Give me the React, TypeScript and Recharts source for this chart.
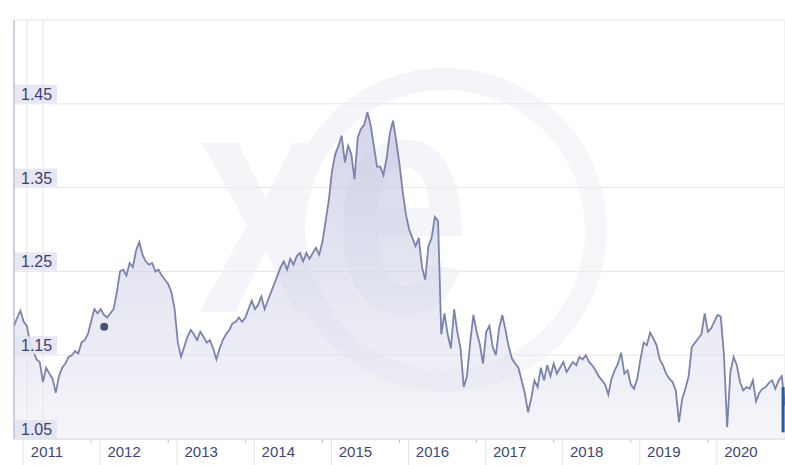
import { ComposedChart, Area, XAxis, YAxis, CartesianGrid, ReferenceDot, ReferenceLine, Customized } from "recharts";

// GBP/EUR, twice a month readings, 10 years
const Y2011 = [1.185, 1.195, 1.203, 1.19, 1.185, 1.165, 1.155, 1.145, 1.142, 1.118, 1.135, 1.128, 1.122, 1.105, 1.125, 1.135, 1.14, 1.148, 1.15, 1.155, 1.152, 1.165, 1.168, 1.175];
const Y2012 = [1.19, 1.205, 1.2, 1.205, 1.198, 1.195, 1.2, 1.205, 1.225, 1.25, 1.252, 1.245, 1.26, 1.255, 1.275, 1.285, 1.27, 1.262, 1.258, 1.26, 1.25, 1.252, 1.245, 1.24];
const Y2013 = [1.235, 1.225, 1.205, 1.165, 1.148, 1.16, 1.172, 1.18, 1.175, 1.168, 1.178, 1.172, 1.165, 1.168, 1.158, 1.145, 1.158, 1.168, 1.175, 1.18, 1.188, 1.19, 1.195, 1.19];
const Y2014 = [1.195, 1.205, 1.215, 1.205, 1.21, 1.22, 1.205, 1.215, 1.225, 1.235, 1.245, 1.255, 1.262, 1.252, 1.265, 1.258, 1.268, 1.272, 1.262, 1.272, 1.265, 1.272, 1.278, 1.27];
const Y2015 = [1.285, 1.31, 1.335, 1.37, 1.39, 1.4, 1.412, 1.38, 1.4, 1.39, 1.36, 1.41, 1.42, 1.425, 1.44, 1.425, 1.4, 1.375, 1.375, 1.365, 1.385, 1.415, 1.43, 1.405];
const Y2016 = [1.378, 1.345, 1.318, 1.3, 1.29, 1.28, 1.29, 1.255, 1.24, 1.28, 1.29, 1.315, 1.31, 1.175, 1.2, 1.175, 1.158, 1.205, 1.178, 1.158, 1.112, 1.125, 1.165, 1.198];
const Y2017 = [1.178, 1.163, 1.14, 1.178, 1.185, 1.16, 1.15, 1.182, 1.198, 1.18, 1.16, 1.146, 1.14, 1.135, 1.12, 1.105, 1.082, 1.098, 1.12, 1.112, 1.135, 1.12, 1.138, 1.125];
const Y2018 = [1.14, 1.128, 1.135, 1.142, 1.13, 1.136, 1.142, 1.138, 1.148, 1.145, 1.15, 1.142, 1.138, 1.132, 1.125, 1.12, 1.115, 1.103, 1.122, 1.132, 1.14, 1.153, 1.128, 1.132];
const Y2019 = [1.115, 1.11, 1.122, 1.145, 1.165, 1.162, 1.177, 1.17, 1.162, 1.145, 1.138, 1.128, 1.122, 1.118, 1.108, 1.07, 1.098, 1.11, 1.125, 1.16, 1.165, 1.17, 1.175, 1.2];
const Y2020 = [1.178, 1.182, 1.19, 1.198, 1.196, 1.15, 1.064, 1.13, 1.148, 1.138, 1.118, 1.108, 1.112, 1.11, 1.12, 1.095, 1.105, 1.11, 1.112, 1.117, 1.12, 1.11, 1.12, 1.125, 1.09];

const YEARS = [2011, 2012, 2013, 2014, 2015, 2016, 2017, 2018, 2019, 2020];
const RATE_TICKS = [1.05, 1.15, 1.25, 1.35, 1.45, 1.55];
const GRID_TICKS = [1, 2, 3, 4, 5, 6, 7, 8, 9];
const MARKER = { t: 2012.17, v: 1.184 };
const LATEST = { t: 2020.975, lo: 1.058, hi: 1.112 };

const SERIES = [Y2011, Y2012, Y2013, Y2014, Y2015, Y2016, Y2017, Y2018, Y2019, Y2020];
const data = SERIES.flatMap((arr, k) => arr.map((v, i) => ({ t: YEARS[k] + i / 24, v })));

const PLOT_LEFT = 14;
const PLOT_BOTTOM = 439;
const FONT = "'Liberation Sans', Arial, sans-serif";

const YearTick = ({ x, payload }: any) => {
  const v = payload.value as number;
  return (
    <g>
      {v > YEARS[0] && <line x1={x} x2={x} y1={PLOT_BOTTOM + 1} y2={PLOT_BOTTOM + 4} stroke="#c4c4c4" />}
      <line x1={x + 9} x2={x + 9} y1={PLOT_BOTTOM} y2={465} stroke="#e4e4e4" />
      <text x={x + 33} y={PLOT_BOTTOM + 18} textAnchor="middle" fontSize={15} fontFamily={FONT} fill="#3d4777">
        {v}
      </text>
    </g>
  );
};

const RateTick = ({ y, payload }: any) => {
  const v = payload.value as number;
  if (v >= 1.55) return <g />;
  return (
    <g>
      <rect x={PLOT_LEFT + 1} y={y - 19} width={42} height={18} fill="#e3e4f2" fillOpacity={0.9} />
      <text x={PLOT_LEFT + 7} y={y - 4} fontSize={16} fontFamily={FONT} fill="#3b4273" textAnchor="start">
        {v.toFixed(2)}
      </text>
    </g>
  );
};

// xe watermark on top of the area
const Watermark = () => (
  <g pointerEvents="none" opacity={0.55}>
    <circle cx={445} cy={230} r={151} fill="none" stroke="#ececf5" strokeWidth={22} />
    <text x={198} y={312} fontSize={320} fontWeight="bold" fontFamily={FONT} fill="#ececf5"
      textLength={272} lengthAdjust="spacingAndGlyphs">
      xe
    </text>
  </g>
);

export default function App() {
  return (
    <div style={{ position: "absolute", left: 0, top: 0, width: 785, height: 465, background: "#fff" }}>
      <ComposedChart width={785} height={465} data={data} margin={{ top: 20, right: 0, bottom: 0, left: 0 }}>
        <defs>
          <linearGradient id="fxFill" x1="0" y1="0" x2="0" y2="1">
            <stop offset="0%" stopColor="#b3b8d8" stopOpacity={0.95} />
            <stop offset="100%" stopColor="#eeeef6" stopOpacity={0.95} />
          </linearGradient>
        </defs>
        <XAxis xAxisId="grid" type="number" domain={[0, 9.5]} ticks={GRID_TICKS} allowDataOverflow hide />
        <CartesianGrid xAxisId="grid" stroke="#e6e6e6" />
        <XAxis
          dataKey="t"
          type="number"
          domain={[2011, 2021]}
          ticks={YEARS}
          interval={0}
          allowDataOverflow
          height={26}
          tickLine={false}
          axisLine={{ stroke: "#dcdcdc" }}
          tick={<YearTick />}
        />
        <Area
          type="linear"
          dataKey="v"
          stroke="#7a83ad"
          strokeWidth={1.8}
          fill="url(#fxFill)"
          dot={false}
          activeDot={false}
          isAnimationActive={false}
        />
        <Customized component={Watermark} />
        <YAxis
          type="number"
          domain={[1.05, 1.55]}
          ticks={RATE_TICKS}
          interval={0}
          allowDataOverflow
          width={PLOT_LEFT}
          tickLine={false}
          axisLine={{ stroke: "#a7acd0" }}
          tick={<RateTick />}
        />
        <ReferenceLine
          segment={[{ x: LATEST.t, y: LATEST.lo }, { x: LATEST.t, y: LATEST.hi }]}
          stroke="#1f5ea6"
          strokeWidth={3}
        />
        <ReferenceDot x={MARKER.t} y={MARKER.v} r={4} fill="#4b5170" stroke="none" />
      </ComposedChart>
    </div>
  );
}
